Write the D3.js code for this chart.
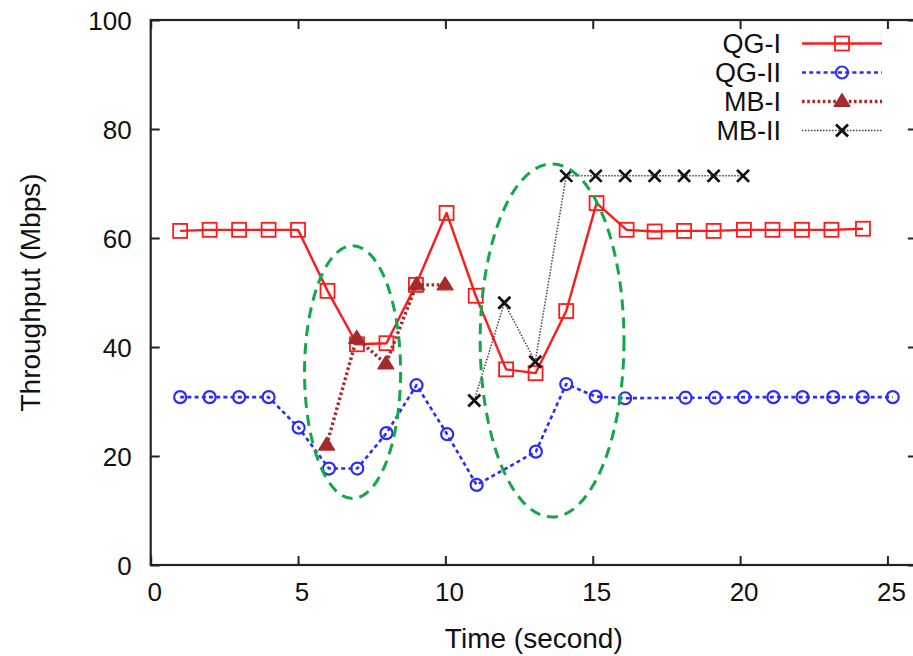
<!DOCTYPE html>
<html><head><meta charset="utf-8">
<script src="https://cdn.jsdelivr.net/npm/d3@7"></script>
<style>
html,body{margin:0;padding:0;background:#fff;}
svg{display:block;font-family:"Liberation Sans",Arial,Helvetica,sans-serif;}
</style></head>
<body>
<svg id="chart" width="913" height="656"></svg>
<script>
// ---- data ----
const qg1Time  = [1,2,3,4,5,6,7,8,9,10.04,11.03,12.06,13.06,14.1,15.13,16.15,17.1,18.1,19.1,20.13,21.1,22.1,23.1,24.17];
const qg1Value = [61.3,61.5,61.5,61.5,61.5,50.3,40.5,40.7,51.4,64.6,49.4,35.9,35.2,46.6,66.4,61.5,61.2,61.3,61.3,61.5,61.5,61.5,61.5,61.7];
const qg2Time  = [1,2,3,4,5.02,6.05,7.01,8,9.02,10.06,11.06,13.07,14.1,15.1,16.1,18.15,19.15,20.13,21.13,22.12,23.16,24.16,25.18];
const qg2Value = [30.8,30.8,30.8,30.8,25.2,17.7,17.7,24.2,33.0,24.0,14.7,20.8,33.2,30.9,30.6,30.7,30.7,30.8,30.8,30.8,30.8,30.8,30.8];
const mb1Time  = [5.97,6.99,7.98,9.02,9.99];
const mb1Value = [22.0,41.6,36.9,51.4,51.4];
const mb2Time  = [10.98,12.0,13.05,14.1,15.1,16.1,17.1,18.1,19.1,20.1];
const mb2Value = [30.2,48.1,37.3,71.4,71.4,71.4,71.4,71.4,71.4,71.4];
const seriesNames = ["QG-I","QG-II","MB-I","MB-II"];
const xTicks = [0,5,10,15,20,25];
const yTicks = [0,20,40,60,80,100];
// annotation ellipses: centre time, centre throughput, half-width (s), half-height (Mbps)
const ellipseCx = [6.85,13.62];
const ellipseCy = [35.4,41.2];
const ellipseRx = [1.63,2.44];
const ellipseRy = [23.2,32.4];

// ---- layout ----
const svg = d3.select("#chart");
const x = d3.scaleLinear().domain([0,26]).range([150.7,916.9]);
const y = d3.scaleLinear().domain([0,100]).range([565,20]);
const FONT = 26;

const toPts = (t,v)=>t.map((d,i)=>({t:d,v:v[i]}));
const series = [
  {name:seriesNames[0], pts:toPts(qg1Time,qg1Value), color:"#ff1a1a", width:2.4, dash:null, marker:"square"},
  {name:seriesNames[1], pts:toPts(qg2Time,qg2Value), color:"#2b2bff", width:2.6, dash:"4,3.2", marker:"circle"},
  {name:seriesNames[2], pts:toPts(mb1Time,mb1Value), color:"#a52a2a", width:3.4, dash:"2.6,2.6", marker:"triangle"},
  {name:seriesNames[3], pts:toPts(mb2Time,mb2Value), color:"#444", width:1.5, dash:"1.5,1.5", marker:"cross"}
];

// axes with inward ticks
const axB = svg.append("g").attr("transform",`translate(0,${y(0)})`)
  .call(d3.axisBottom(x).tickValues(xTicks).tickSize(-9).tickSizeOuter(0).tickPadding(18));
const axL = svg.append("g").attr("transform",`translate(${x(0)},0)`)
  .call(d3.axisLeft(y).tickValues(yTicks).tickSize(-9).tickSizeOuter(0).tickPadding(19));
svg.append("g").attr("transform",`translate(0,${y(100)})`)
  .call(d3.axisTop(x).tickValues(xTicks).tickSize(-9).tickSizeOuter(0).tickFormat(""));
svg.append("g").attr("transform",`translate(${x(26)},0)`)
  .call(d3.axisRight(y).tickValues(yTicks).tickSize(-9).tickSizeOuter(0).tickFormat(""));
svg.selectAll(".domain").remove();
svg.selectAll(".tick line").attr("stroke","#222").attr("stroke-width",2);
axB.selectAll("text").attr("font-size",FONT).attr("fill","#111").attr("dx",3.5).attr("dy","0.71em")
  .attr("font-family","Liberation Sans, Arial, sans-serif");
axL.selectAll("text").attr("font-size",FONT).attr("fill","#111").attr("dy","0.36em")
  .attr("font-family","Liberation Sans, Arial, sans-serif");

// frame
svg.append("rect").attr("x",x(0)).attr("y",y(100))
  .attr("width",x(26)-x(0)).attr("height",y(0)-y(100))
  .attr("fill","none").attr("stroke","#222").attr("stroke-width",2.2);

// axis titles
svg.append("text").attr("x",(x(0)+x(26))/2).attr("y",648).attr("text-anchor","middle")
  .attr("font-size",28).attr("fill","#111").text("Time (second)");
svg.append("text").attr("transform",`translate(40,${(y(0)+y(100))/2}) rotate(-90)`)
  .attr("text-anchor","middle").attr("font-size",28).attr("fill","#111").text("Throughput (Mbps)");

// markers
function drawMarker(g, type, cx, cy, color){
  if(type==="square"){
    g.append("rect").attr("x",cx-7).attr("y",cy-7).attr("width",14).attr("height",14)
      .attr("fill","none").attr("stroke",color).attr("stroke-width",1.8);
  } else if(type==="circle"){
    g.append("circle").attr("cx",cx).attr("cy",cy).attr("r",6)
      .attr("fill","none").attr("stroke",color).attr("stroke-width",2.2);
  } else if(type==="triangle"){
    g.append("path").attr("d",`M${cx},${cy-8}L${cx+8},${cy+5}L${cx-8},${cy+5}Z`)
      .attr("fill",color).attr("stroke",color).attr("stroke-width",1.2).attr("stroke-linejoin","round");
  } else if(type==="cross"){
    g.append("path").attr("d",`M${cx-6},${cy-6}L${cx+6},${cy+6}M${cx-6},${cy+6}L${cx+6},${cy-6}`)
      .attr("stroke","#111").attr("stroke-width",2.8).attr("fill","none");
  }
}

const line = d3.line().x(d=>x(d.t)).y(d=>y(d.v));
series.forEach(s=>{
  const g = svg.append("g");
  g.append("path").datum(s.pts).attr("d",line).attr("fill","none")
    .attr("stroke",s.color).attr("stroke-width",s.width)
    .attr("stroke-dasharray",s.dash).attr("stroke-linejoin","round");
  s.pts.forEach(p=>drawMarker(g,s.marker,x(p.t),y(p.v),s.color));
});

// legend
const legY = [43.5,72.5,101.5,130.5];
series.forEach((s,i)=>{
  const g = svg.append("g");
  g.append("text").attr("x",781).attr("y",legY[i]).attr("dy","0.36em").attr("text-anchor","end")
    .attr("font-size",27).attr("fill","#111").text(s.name);
  g.append("line").attr("x1",802).attr("x2",882).attr("y1",legY[i]).attr("y2",legY[i])
    .attr("stroke",s.color).attr("stroke-width",s.width).attr("stroke-dasharray",s.dash);
  drawMarker(g,s.marker,842,legY[i],s.color);
});

// dashed green ellipses
ellipseCx.forEach((c,i)=>{
  svg.append("ellipse").attr("cx",x(c)).attr("cy",y(ellipseCy[i]))
    .attr("rx",x(ellipseRx[i])-x(0)).attr("ry",y(0)-y(ellipseRy[i]))
    .attr("fill","none").attr("stroke","#12a84a").attr("stroke-width",3)
    .attr("stroke-dasharray","11,7");
});
</script>
</body></html>
